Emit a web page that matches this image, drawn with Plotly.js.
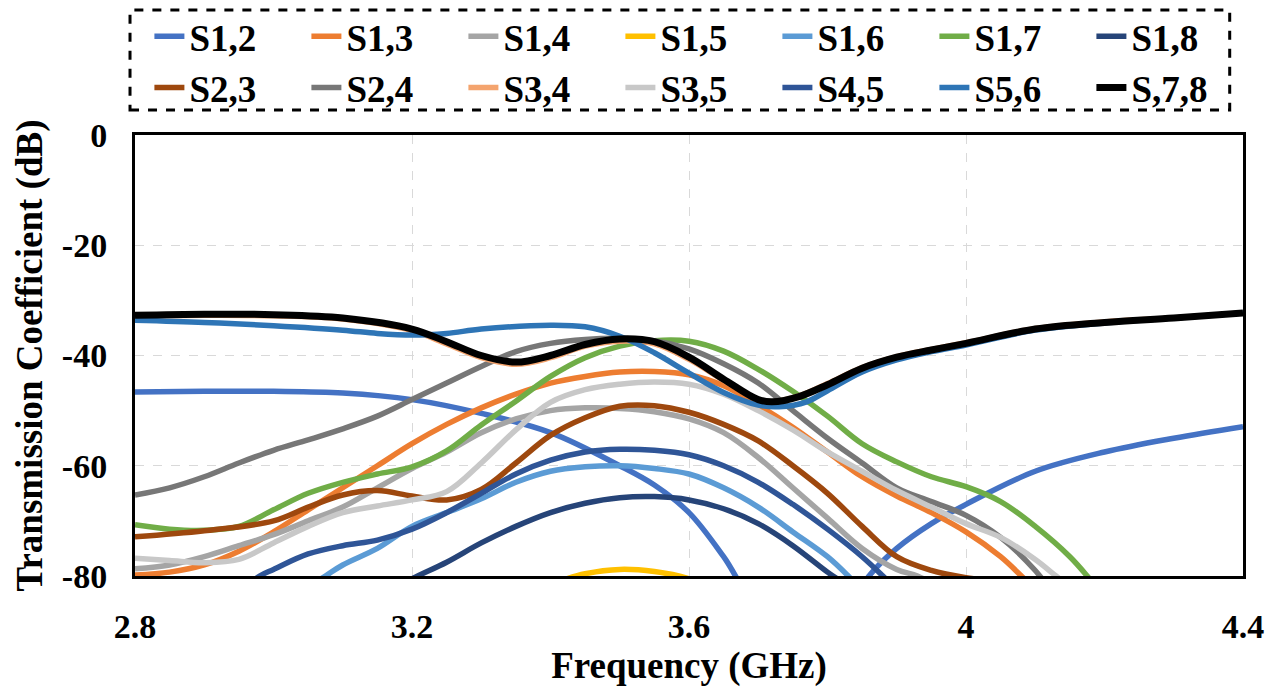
<!DOCTYPE html>
<html>
<head>
<meta charset="utf-8">
<script src="https://cdn.plot.ly/plotly-3.0.1.min.js"></script>
<style>html,body{margin:0;padding:0;background:#fff;}#chart{width:1284px;height:687px;}</style>
</head>
<body>
<div id="chart"></div>
<script>
// ---- data (frequency in GHz, transmission coefficient in dB) ----
const seriesNames = ['S1,2','S1,3','S1,4','S1,5','S1,6','S1,7','S1,8','S2,3','S2,4','S3,4','S3,5','S4,5','S5,6','S,7,8'];
const seriesColors = ['#4472C4','#ED7D31','#A5A5A5','#FFC000','#5B9BD5','#70AD47','#264478','#9E480E','#777777','#F4A46E','#C8C8C8','#2F5597','#2E75B6','#000000'];

const f_S12 = [2.8,2.9,3.0,3.1,3.2,3.3,3.4,3.5,3.55,3.6,3.65,3.7,3.78,3.82,3.86,3.9,3.95,4.0,4.1,4.2,4.3,4.4];
const db_S12 = [-46.6,-46.5,-46.5,-46.8,-48,-50.5,-54,-60,-63.5,-68.5,-76.5,-86,-92,-88,-80,-75,-70.5,-67,-61,-57.5,-55,-52.9];

const f_S13 = [2.8,2.85,2.9,2.95,3.0,3.05,3.1,3.15,3.2,3.25,3.3,3.35,3.4,3.45,3.5,3.55,3.6,3.65,3.7,3.75,3.8,3.85,3.9,3.95,4.0,4.05,4.08,4.1];
const db_S13 = [-79.8,-79.3,-78,-75.5,-72,-68,-64,-60,-56,-52.5,-49.5,-47,-45,-43.8,-43,-42.9,-43.5,-45.5,-49,-53,-57.5,-62,-65.5,-68.5,-72,-76.5,-80,-82.5];

const f_S14 = [2.8,2.85,2.9,2.95,3.0,3.05,3.1,3.15,3.2,3.25,3.3,3.35,3.4,3.45,3.5,3.55,3.6,3.65,3.7,3.75,3.8,3.85,3.9,3.93,3.96];
const db_S14 = [-78.7,-78,-76.5,-74.5,-72.5,-70,-67.5,-64,-60.5,-57.5,-54,-51.5,-50,-49.5,-49.6,-50.2,-51.5,-54,-58.5,-64,-69.5,-75,-78.8,-80,-82];

const f_S15 = [3.35,3.4,3.45,3.5,3.55,3.6,3.65];
const db_S15 = [-84,-81.5,-79.6,-78.8,-79.2,-80.5,-83];

const f_S16 = [3.0,3.05,3.075,3.1,3.15,3.2,3.25,3.3,3.35,3.4,3.45,3.5,3.55,3.6,3.65,3.7,3.75,3.8,3.83,3.86];
const db_S16 = [-87,-82,-80,-78,-75,-71,-68.5,-66,-63,-61,-60.2,-60,-60.5,-61.5,-64,-67.5,-72,-76.5,-80,-84];

const f_S17 = [2.8,2.85,2.9,2.95,3.0,3.05,3.1,3.15,3.2,3.25,3.3,3.35,3.4,3.45,3.5,3.55,3.6,3.65,3.7,3.75,3.8,3.85,3.9,3.95,4.0,4.05,4.1,4.15,4.175,4.2];
const db_S17 = [-70.7,-71.5,-71.7,-71,-68,-65,-63,-61.5,-60.2,-57.3,-52.6,-48.3,-43.8,-40.4,-38.3,-37.3,-37.4,-39.2,-42.5,-46.5,-51,-56,-59.3,-62,-63.8,-66.5,-71,-76.5,-80,-84];

const f_S18 = [3.15,3.2,3.25,3.3,3.35,3.4,3.45,3.5,3.55,3.6,3.65,3.7,3.75,3.8,3.82];
const db_S18 = [-84,-80.5,-77.5,-74,-71,-68.5,-66.8,-65.8,-65.6,-66.2,-67.8,-70.5,-74.5,-79.3,-81];

const f_S23 = [2.8,2.9,3.0,3.05,3.1,3.15,3.2,3.25,3.3,3.35,3.4,3.45,3.5,3.55,3.6,3.65,3.7,3.75,3.8,3.85,3.9,3.95,4.0,4.05];
const db_S23 = [-72.9,-71.8,-70,-67.5,-65.3,-64.5,-65.5,-66.2,-64.3,-59.5,-54.5,-51.3,-49.2,-49.1,-50.3,-52.5,-55.5,-60,-65,-71,-76.5,-79,-80.3,-81];

const f_S24 = [2.8,2.85,2.9,2.95,3.0,3.05,3.1,3.15,3.2,3.25,3.3,3.35,3.4,3.45,3.5,3.55,3.6,3.65,3.7,3.75,3.8,3.85,3.9,3.95,4.0,4.05,4.1,4.13];
const db_S24 = [-65.3,-64,-62,-59.5,-57.2,-55.3,-53.3,-51,-48,-45,-42,-39.3,-37.8,-37.1,-36.9,-37.3,-38.8,-41.5,-45,-50,-55,-59.5,-64,-66.5,-69,-73,-79,-84];

const f_S34 = [2.8,2.9,3.0,3.1,3.2,3.25,3.3,3.35,3.4,3.45,3.5,3.55,3.6,3.65,3.7,3.72,3.76,3.8,3.85,3.9,3.95,4.0,4.1,4.2,4.3,4.4];
const db_S34 = [-32.9,-32.7,-32.8,-33.4,-35.5,-37.9,-40.4,-41.6,-40.4,-38.3,-37.4,-37.9,-40.7,-44.5,-48,-48.4,-47.3,-45.1,-42.2,-40.2,-38.9,-37.7,-35.1,-33.9,-33.2,-32.3];

const f_S35 = [2.8,2.85,2.9,2.95,3.0,3.05,3.1,3.15,3.2,3.25,3.3,3.35,3.4,3.45,3.5,3.55,3.6,3.65,3.7,3.75,3.8,3.85,3.9,3.95,4.0,4.05,4.1,4.13,4.16];
const db_S35 = [-76.8,-77.2,-77.6,-77,-74,-71,-68.5,-67.3,-66.2,-64.7,-59.5,-53.5,-48.5,-46.2,-45.2,-44.8,-45.2,-47,-50,-53.5,-57.5,-61,-64.5,-67.5,-70.5,-73,-77,-80,-83];

const f_S45 = [2.9,2.95,2.98,3.0,3.05,3.1,3.15,3.2,3.25,3.3,3.35,3.4,3.45,3.5,3.55,3.6,3.65,3.7,3.75,3.8,3.85,3.88,3.9];
const db_S45 = [-88,-83,-80,-78.8,-76,-74.5,-73.5,-71.5,-68.5,-65,-61.5,-59,-57.5,-57,-57.2,-58,-60,-63,-67,-71.5,-76.5,-80,-82.5];

const f_S56 = [2.8,2.9,3.0,3.1,3.15,3.2,3.25,3.3,3.4,3.45,3.5,3.55,3.6,3.65,3.7,3.73,3.77,3.8,3.85,3.9,3.95,4.0,4.1,4.2,4.3,4.4];
const db_S56 = [-33.6,-34,-34.6,-35.4,-36,-36.3,-36,-35.2,-34.5,-34.8,-36.5,-39.5,-43.2,-46.7,-49,-49.3,-48.4,-46.4,-43,-40.8,-39.3,-38.1,-35.4,-34.1,-33.2,-32.3];

const f_S78 = [2.8,2.9,3.0,3.1,3.2,3.25,3.3,3.35,3.4,3.45,3.5,3.55,3.6,3.65,3.7,3.72,3.76,3.8,3.85,3.9,3.95,4.0,4.1,4.2,4.3,4.4];
const db_S78 = [-32.7,-32.5,-32.6,-33.2,-35.2,-37.5,-40,-41.2,-40,-38,-37,-37.5,-40.3,-44.3,-48,-48.4,-47.4,-45.3,-42.3,-40.3,-39,-37.8,-35.2,-34,-33.2,-32.3];

const xTicks = [2.8,3.2,3.6,4,4.4];
const xTickText = ['2.8','3.2','3.6','4','4.4'];
const yTicks = [0,-20,-40,-60,-80];
const yTickText = ['0','-20','-40','-60','-80'];

const freqs = [f_S12,f_S13,f_S14,f_S15,f_S16,f_S17,f_S18,f_S23,f_S24,f_S34,f_S35,f_S45,f_S56,f_S78];
const values = [db_S12,db_S13,db_S14,db_S15,db_S16,db_S17,db_S18,db_S23,db_S24,db_S34,db_S35,db_S45,db_S56,db_S78];

// ---- chart ----
const FONT = 'Liberation Serif, Times New Roman, serif';
const traces = seriesNames.map((name, i) => ({
  type: 'scatter', mode: 'lines', name: name,
  x: freqs[i], y: values[i],
  line: {color: seriesColors[i], width: name === 'S,7,8' ? 7 : 5.5, shape: 'spline', smoothing: 1}
}));

const layout = {
  width: 1284, height: 687,
  margin: {l: 135, r: 41, t: 135, b: 111, autoexpand: false},
  paper_bgcolor: '#ffffff', plot_bgcolor: '#ffffff',
  font: {family: FONT, color: '#000', size: 32, weight: 700},
  showlegend: true,
  legend: {
    orientation: 'h', x: 0.013, xanchor: 'left', y: 1.293, yanchor: 'top',
    font: {family: FONT, size: 37, color: '#000', weight: 700},
    entrywidth: 112, entrywidthmode: 'pixels',
    itemwidth: 30, borderwidth: 0, bgcolor: 'rgba(0,0,0,0)', tracegroupgap: 0
  },
  xaxis: {
    range: [2.8, 4.4], tickvals: xTicks, ticktext: xTickText,
    showgrid: true, gridcolor: '#d9d9d9', griddash: 'dash', gridwidth: 1,
    showline: true, linecolor: '#000', linewidth: 3, mirror: true,
    ticks: 'outside', ticklen: 18, tickcolor: 'rgba(0,0,0,0)',
    zeroline: false,
    tickfont: {family: FONT, size: 34, color: '#000', weight: 700},
    title: {text: 'Frequency (GHz)', font: {family: FONT, size: 37, color: '#000', weight: 700}, standoff: 10}
  },
  yaxis: {
    range: [-80, 0], tickvals: yTicks, ticktext: yTickText,
    showgrid: true, gridcolor: '#d9d9d9', griddash: 'dash', gridwidth: 1,
    showline: true, linecolor: '#000', linewidth: 3, mirror: true,
    ticks: 'outside', ticklen: 18, tickcolor: 'rgba(0,0,0,0)',
    zeroline: false,
    tickfont: {family: FONT, size: 34, color: '#000', weight: 700},
    title: {text: 'Transmission Coefficient (dB)', font: {family: FONT, size: 37, color: '#000', weight: 700}, standoff: 8}
  },
  shapes: [{
    type: 'rect', xref: 'paper', yref: 'paper',
    x0: -0.0045, x1: 0.988, y0: 1.0567, y1: 1.2834,
    line: {color: '#000', width: 3, dash: 'dash'}, fillcolor: 'rgba(0,0,0,0)', layer: 'above'
  }]
};

Plotly.newPlot('chart', traces, layout, {displayModeBar: false, staticPlot: true});
</script>
</body>
</html>
